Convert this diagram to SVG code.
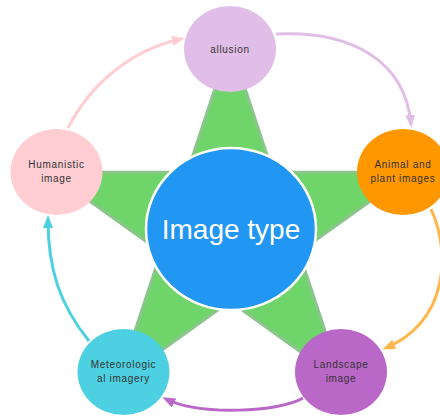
<svg xmlns="http://www.w3.org/2000/svg" width="440" height="416" viewBox="0 0 440 416">
  <style>
    .label { font-family: "Liberation Sans", Arial, sans-serif; font-size: 10px; letter-spacing: 0.7px; fill: #333333; text-anchor: middle; }
    .title { font-family: "Liberation Sans", Arial, sans-serif; font-size: 28px; fill: #ffffff; text-anchor: middle; }
    .link { fill: none; stroke-width: 3; }
  </style>
  <defs>
    <marker id="head-pink" viewBox="0 0 13 10" refX="9" refY="5" markerWidth="13" markerHeight="10" markerUnits="userSpaceOnUse" orient="auto">
      <path d="M0,0 L13,5 L0,10 Z" fill="#ffcdd2"/>
    </marker>
    <marker id="head-lavender" viewBox="0 0 13 10" refX="9" refY="5" markerWidth="13" markerHeight="10" markerUnits="userSpaceOnUse" orient="auto">
      <path d="M0,0 L13,5 L0,10 Z" fill="#e1bee7"/>
    </marker>
    <marker id="head-orange" viewBox="0 0 13 10" refX="9" refY="5" markerWidth="13" markerHeight="10" markerUnits="userSpaceOnUse" orient="auto">
      <path d="M0,0 L13,5 L0,10 Z" fill="#ffb74d"/>
    </marker>
    <marker id="head-purple" viewBox="0 0 13 10" refX="9" refY="5" markerWidth="13" markerHeight="10" markerUnits="userSpaceOnUse" orient="auto">
      <path d="M0,0 L13,5 L0,10 Z" fill="#ba68c8"/>
    </marker>
    <marker id="head-cyan" viewBox="0 0 13 10" refX="9" refY="5" markerWidth="13" markerHeight="10" markerUnits="userSpaceOnUse" orient="auto">
      <path d="M0,0 L13,5 L0,10 Z" fill="#4dd0e1"/>
    </marker>
  </defs>

  <!-- five-pointed star behind the hub -->
  <g id="star">
    <polygon points="230,43 272.7,172.2 410.7,172.2 299,252.1 341.7,381.3 230,301.4 118.3,381.3 161,252.1 49.3,172.2 187.3,172.2"
             fill="#6fd56a" stroke="#8cc48d" stroke-width="3" stroke-linejoin="miter"/>
  </g>

  <!-- cycle connectors -->
  <g id="connectors">
    <path class="link" stroke="#ffcdd2" d="M68,128 C90,85 130,50 181,39" marker-end="url(#head-pink)"/>
    <path class="link" stroke="#e1bee7" d="M276,34 C350,30 405,60 411,124" marker-end="url(#head-lavender)"/>
    <path class="link" stroke="#ffb74d" d="M431,209 C450,250 450,320 386,348" marker-end="url(#head-orange)"/>
    <path class="link" stroke="#ba68c8" d="M303,398 C280,412 200,416 166,399" marker-end="url(#head-purple)"/>
    <path class="link" stroke="#4dd0e1" d="M89,341 C60,305 48,270 48,219" marker-end="url(#head-cyan)"/>
  </g>

  <g id="hub">
    <ellipse cx="231" cy="229" rx="85" ry="81" fill="#2196f3" stroke="#ffffff" stroke-width="2.5"/>
    <text class="title" x="231" y="239">Image type</text>
  </g>

  <g id="node-allusion">
    <ellipse cx="230" cy="49" rx="46" ry="43" fill="#e1bee7"/>
    <text class="label" x="230" y="52.5">allusion</text>
  </g>

  <g id="node-animal">
    <ellipse cx="403" cy="172" rx="46" ry="43" fill="#ff9800"/>
    <text class="label" x="403" y="167.5">Animal and</text>
    <text class="label" x="403" y="182">plant images</text>
  </g>

  <g id="node-landscape">
    <ellipse cx="341" cy="372" rx="46" ry="43" fill="#ba68c8"/>
    <text class="label" x="341" y="367.5">Landscape</text>
    <text class="label" x="341" y="382">image</text>
  </g>

  <g id="node-meteorological">
    <ellipse cx="123.5" cy="372" rx="46" ry="43" fill="#4dd0e1"/>
    <text class="label" x="123.5" y="367.5">Meteorologic</text>
    <text class="label" x="123.5" y="382">al imagery</text>
  </g>

  <g id="node-humanistic">
    <ellipse cx="56.5" cy="172" rx="46" ry="43" fill="#ffcdd2"/>
    <text class="label" x="56.5" y="167.5">Humanistic</text>
    <text class="label" x="56.5" y="182">image</text>
  </g>
</svg>
